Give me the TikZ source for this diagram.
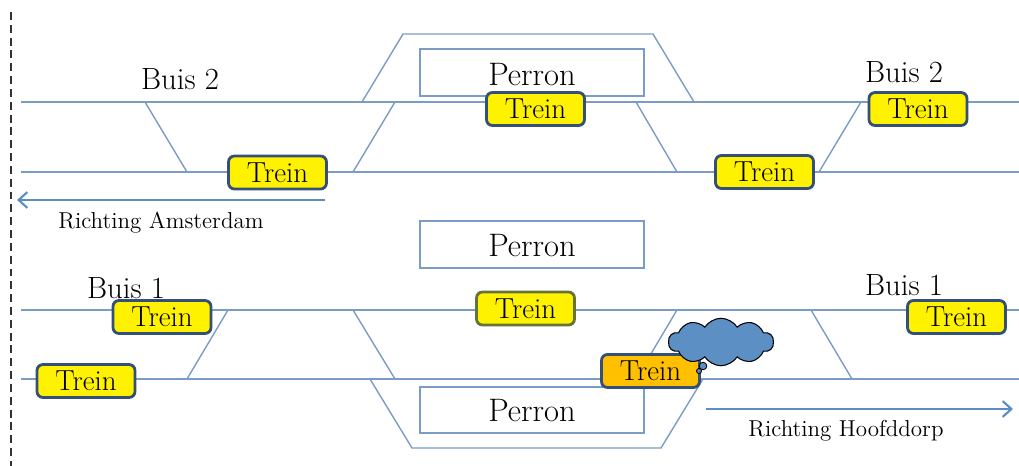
\documentclass[tikz,border=0pt]{standalone}
\usetikzlibrary{arrows.meta,shapes.symbols}
\definecolor{spoorblauw}{RGB}{122,156,198}
\definecolor{randblauw}{RGB}{52,80,120}
\definecolor{pijlblauw}{RGB}{92,142,196}
\definecolor{wolkblauw}{RGB}{92,144,197}
\definecolor{olijf}{RGB}{100,115,55}
\definecolor{oranje}{RGB}{255,192,0}
\begin{document}
\begin{tikzpicture}[x=0.02cm,y=-0.02cm,
        spoor/.style={spoorblauw,line width=0.8pt},
        trein/.style={draw=randblauw,fill=yellow,line width=1.6pt,rounded corners=3.4pt,
            minimum width=1.96cm,minimum height=0.66cm,inner sep=0pt,font=\fontsize{16.5}{18}\selectfont},
        perron/.style={font=\fontsize{18.5}{21}\selectfont},
        buis/.style={anchor=base,font=\fontsize{17.5}{20}\selectfont},
        richting/.style={pijlblauw,line width=1.2pt,-{Straight Barb[length=5pt,width=9pt]}},
        richtingtekst/.style={anchor=base,font=\fontsize{13.1}{15}\selectfont}]
    \useasboundingbox (0,0) rectangle (1019,466);
    \draw[black!80,line width=0.6pt,dash pattern=on 4.5pt off 2.8pt] (11,12) -- (11,466);
    % sporen
    \foreach \y in {102,172,310,379}
        \draw[spoor] (21,\y) -- (1019,\y);
    \draw[spoor] (362,102) -- (403,34) -- (653,34) -- (694,102);
    \draw[spoor] (370,379) -- (412,448) -- (661,448) -- (703,379);
    \foreach \xa/\ya/\xb/\yb in {145/102/187/172, 395/102/353/172, 636/102/677/172, 861/102/819/172,
                                 228/310/187/379, 353/310/395/379, 677/310/636/379, 811/310/852/379}
        \draw[spoor] (\xa,\ya) -- (\xb,\yb);
    % perrons
    \draw[spoor] (420,49) rectangle (644,96);
    \draw[spoor] (420,221) rectangle (644,268);
    \draw[spoor] (420,387) rectangle (644,433);
    \node[perron] (perron1) at (532,75) {Perron};
    \node[perron] (perron2) at (532,246) {Perron};
    \node[perron] (perron3) at (532,411) {Perron};
    % treinen
    \foreach \x/\y/\n in {277.5/172.5/t1, 535.5/109/t2, 764.5/172/t3, 918/109/t4,
                          162/317/t5, 86/381/t6, 956.5/317/t9}
        \node[trein] (\n) at (\x,\y) {Trein};
    \node[trein,draw=olijf] (t7) at (525.5,308.5) {Trein};
    \node[trein,fill=oranje] (t8) at (650.5,371) {Trein};
    % buizen
    \node[buis] (buis2l) at (180,90) {Buis 2};
    \node[buis] (buis2r) at (904,83) {Buis 2};
    \node[buis] (buis1l) at (126,298) {Buis 1};
    \node[buis] (buis1r) at (904,296) {Buis 1};
    % richtingen
    \coordinate (ams1) at (325,200);
    \coordinate (ams2) at (17,200);
    \draw[richting] (ams1) -- (ams2);
    \node[richtingtekst] (ams) at (161,229) {Richting Amsterdam};
    \coordinate (hfd1) at (706,409);
    \coordinate (hfd2) at (1013,409);
    \draw[richting] (hfd1) -- (hfd2);
    \node[richtingtekst] (hfd) at (846,437) {Richting Hoofddorp};
    % wolk
    \node[cloud,cloud puffs=10,cloud puff arc=115,cloud ignores aspect,draw=black,fill=wolkblauw,
          line width=0.6pt,inner sep=0pt,minimum width=2.1cm,minimum height=0.95cm] (wolk) at (721,342) {};
    \node[circle,draw=black,fill=wolkblauw,line width=0.5pt,inner sep=0pt,minimum size=0.15cm] (bel1) at (703,366) {};
    \node[circle,draw=black,fill=wolkblauw,line width=0.5pt,inner sep=0pt,minimum size=0.1cm] (bel2) at (699,371) {};
\end{tikzpicture}
\end{document}
